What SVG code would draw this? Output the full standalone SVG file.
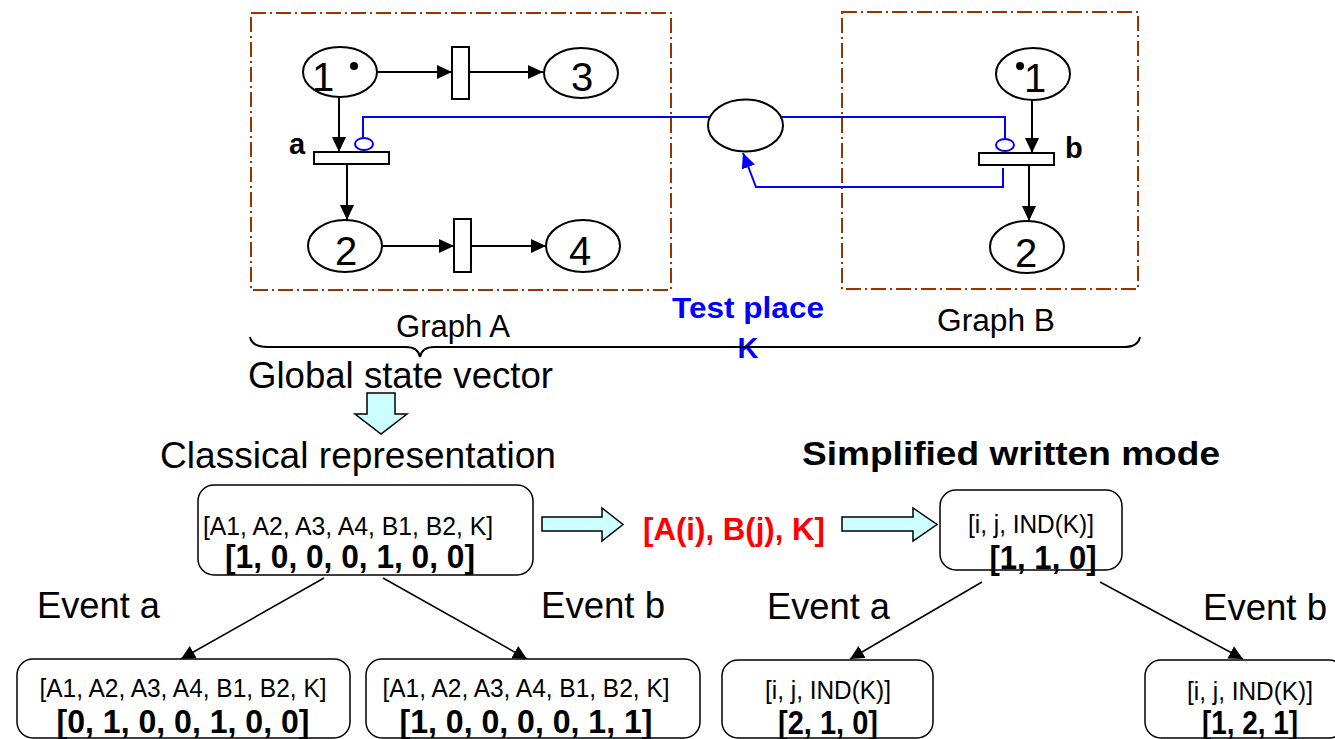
<svg xmlns="http://www.w3.org/2000/svg" width="1335" height="739" viewBox="0 0 1335 739">
<style>
text{font-family:"Liberation Sans",Arial,sans-serif;fill:#000}
.b{font-weight:bold}
.place{fill:#fff;stroke:#000;stroke-width:2}
.trans{fill:#fff;stroke:#000;stroke-width:2}
.frame{fill:none;stroke:#993300;stroke-width:2;stroke-dasharray:15 4 2 4}
.arc{fill:none;stroke:#000;stroke-width:2}
.tarc{fill:none;stroke:#000;stroke-width:1.5}
.blue{fill:none;stroke:#0000FF;stroke-width:2}
.box{fill:#fff;stroke:#000;stroke-width:1.5}
.blk{fill:#CCFFFF;stroke:#000;stroke-width:1.5}
.dig{font-size:40px;text-anchor:middle}
.lbl{font-size:29px;font-weight:bold}
.small{font-size:25px;text-anchor:middle}
.vec{font-size:34px;font-weight:bold;text-anchor:middle}
.ev{font-size:36px}
</style>
<defs>
<marker id="arr" viewBox="0 0 15 14" refX="15" refY="7" markerWidth="15" markerHeight="14" markerUnits="userSpaceOnUse" orient="auto"><path d="M0,0 L15,7 L0,14 z" fill="#000"/></marker>
<marker id="arrs" viewBox="0 0 14 14" refX="14" refY="7" markerWidth="14" markerHeight="14" markerUnits="userSpaceOnUse" orient="auto"><path d="M0,0 L14,7 L0,14 z" fill="#000"/></marker>
<marker id="arrb" viewBox="0 0 15 14" refX="15" refY="7" markerWidth="15" markerHeight="14" markerUnits="userSpaceOnUse" orient="auto"><path d="M0,0 L15,7 L0,14 z" fill="#0000FF"/></marker>
</defs>

<g id="frames">
<rect id="graphA-frame" class="frame" x="251" y="13" width="420" height="277"/>
<rect id="graphB-frame" class="frame" x="842" y="12" width="296" height="277"/>
</g>

<g id="connectors">
<line class="arc" x1="378" y1="72" x2="452" y2="72" marker-end="url(#arr)"/>
<line class="arc" x1="469" y1="72" x2="543" y2="72" marker-end="url(#arr)"/>
<line class="arc" x1="339" y1="98" x2="339" y2="152" marker-end="url(#arr)"/>
<line class="arc" x1="347" y1="164" x2="347" y2="220" marker-end="url(#arr)"/>
<line class="arc" x1="382" y1="246" x2="454" y2="246" marker-end="url(#arr)"/>
<line class="arc" x1="471" y1="246" x2="546" y2="246" marker-end="url(#arr)"/>
<line class="arc" x1="1032" y1="100" x2="1032" y2="153" marker-end="url(#arr)"/>
<line class="arc" x1="1029" y1="165" x2="1029" y2="221" marker-end="url(#arr)"/>
<path class="blue" d="M709,117 H363 V138"/>
<ellipse cx="364" cy="144" rx="9" ry="6" fill="#fff" stroke="#0000FF" stroke-width="2"/>
<line class="blue" x1="364" y1="150" x2="364" y2="152"/>
<path class="blue" d="M782,117 H1005 V139"/>
<ellipse cx="1005" cy="145" rx="9" ry="6" fill="#fff" stroke="#0000FF" stroke-width="2"/>
<path class="blue" d="M1003,168 V187 H756 L743,153" marker-end="url(#arrb)"/>
<line class="tarc" x1="324" y1="578" x2="181" y2="659" marker-end="url(#arrs)"/>
<line class="tarc" x1="383" y1="578" x2="527" y2="659" marker-end="url(#arrs)"/>
<line class="tarc" x1="982" y1="582" x2="850" y2="659" marker-end="url(#arrs)"/>
<line class="tarc" x1="1100" y1="582" x2="1243" y2="659" marker-end="url(#arrs)"/>
</g>

<g id="A1"><ellipse class="place" cx="340" cy="72" rx="37" ry="25"/><text class="dig" x="323" y="91">1</text><circle cx="354" cy="66" r="4" fill="#000"/></g>
<g id="A3"><ellipse class="place" cx="581" cy="73" rx="37" ry="25"/><text class="dig" x="582" y="91">3</text></g>
<g id="A2"><ellipse class="place" cx="345" cy="246" rx="37" ry="26"/><text class="dig" x="346" y="265">2</text></g>
<g id="A4"><ellipse class="place" cx="583" cy="246" rx="37" ry="26"/><text class="dig" x="580" y="265">4</text></g>
<g id="tA1"><rect class="trans" x="452" y="47" width="17" height="52"/></g>
<g id="tA2"><rect class="trans" x="454" y="219" width="17" height="53"/></g>
<g id="ta"><rect class="trans" x="314" y="152" width="75" height="12"/><text class="lbl" x="289" y="154">a</text></g>

<g id="K"><ellipse class="place" cx="745.5" cy="125.5" rx="37.5" ry="26"/></g>

<g id="B1"><ellipse class="place" cx="1033" cy="74" rx="37" ry="26"/><text class="dig" x="1035" y="92">1</text><circle cx="1020" cy="66" r="4" fill="#000"/></g>
<g id="B2"><ellipse class="place" cx="1027" cy="247" rx="37" ry="26"/><text class="dig" x="1026" y="267">2</text></g>
<g id="tb"><rect class="trans" x="979" y="153" width="75" height="12"/><text class="lbl" x="1065" y="158">b</text></g>

<g id="labels">
<text x="396" y="337" font-size="31" textLength="114" lengthAdjust="spacingAndGlyphs">Graph A</text>
<text x="937" y="331" font-size="31" textLength="118" lengthAdjust="spacingAndGlyphs">Graph B</text>
<text class="b" x="672" y="318" font-size="29" style="fill:#0000FF" textLength="152" lengthAdjust="spacingAndGlyphs">Test place</text>
<text class="b" x="748" y="358" font-size="29" text-anchor="middle" style="fill:#0000FF">K</text>
<path d="M250,337 Q252,347 268,347 H406 Q418,347 420,357 Q422,347 434,347 H1124 Q1138,347 1140,337" fill="none" stroke="#000" stroke-width="2"/>
<text x="248" y="388" font-size="36" textLength="305" lengthAdjust="spacingAndGlyphs">Global state vector</text>
<text x="160" y="468" font-size="36" textLength="396" lengthAdjust="spacingAndGlyphs">Classical representation</text>
<text class="b" x="802" y="465" font-size="34" textLength="418" lengthAdjust="spacingAndGlyphs">Simplified written mode</text>
<text class="b" x="643" y="540" font-size="31" style="fill:#FF0000" textLength="182" lengthAdjust="spacingAndGlyphs">[A(i), B(j), K]</text>
<text class="ev" x="37" y="618" textLength="123" lengthAdjust="spacingAndGlyphs">Event a</text>
<text class="ev" x="541" y="618" textLength="124" lengthAdjust="spacingAndGlyphs">Event b</text>
<text class="ev" x="767" y="619" textLength="123" lengthAdjust="spacingAndGlyphs">Event a</text>
<text class="ev" x="1203" y="620" textLength="124" lengthAdjust="spacingAndGlyphs">Event b</text>
</g>

<g id="block-arrows">
<path class="blk" d="M367,393 H395 V414 H407 L381,434 L355,414 H367 Z"/>
<path class="blk" d="M542,517 H602 V508 L623,524.5 L602,541 V531 H542 Z"/>
<path class="blk" d="M842,517 H913 V508 L937,524.5 L913,541 V531 H842 Z"/>
</g>

<g id="classical-root"><rect class="box" x="198" y="485" width="335" height="90" rx="16"/>
<text class="small" x="348" y="535" textLength="290" lengthAdjust="spacingAndGlyphs">[A1, A2, A3, A4, B1, B2, K]</text>
<text class="vec" x="350" y="568" textLength="250" lengthAdjust="spacingAndGlyphs">[1, 0, 0, 0, 1, 0, 0]</text></g>

<g id="classical-a"><rect class="box" x="17" y="659" width="333" height="79" rx="16"/>
<text class="small" x="183" y="697" textLength="287" lengthAdjust="spacingAndGlyphs">[A1, A2, A3, A4, B1, B2, K]</text>
<text class="vec" x="183" y="733" textLength="253" lengthAdjust="spacingAndGlyphs">[0, 1, 0, 0, 1, 0, 0]</text></g>

<g id="classical-b"><rect class="box" x="366" y="659" width="334" height="79" rx="16"/>
<text class="small" x="526" y="697" textLength="287" lengthAdjust="spacingAndGlyphs">[A1, A2, A3, A4, B1, B2, K]</text>
<text class="vec" x="526" y="733" textLength="253" lengthAdjust="spacingAndGlyphs">[1, 0, 0, 0, 0, 1, 1]</text></g>

<g id="simple-root"><rect class="box" x="940" y="490" width="182" height="80" rx="16"/>
<text class="small" x="1031" y="533" textLength="126" lengthAdjust="spacingAndGlyphs">[i, j, IND(K)]</text>
<text class="vec" x="1043" y="569" textLength="107" lengthAdjust="spacingAndGlyphs">[1, 1, 0]</text></g>

<g id="simple-a"><rect class="box" x="722" y="660" width="211" height="78" rx="16"/>
<text class="small" x="828" y="699" textLength="126" lengthAdjust="spacingAndGlyphs">[i, j, IND(K)]</text>
<text class="vec" x="828" y="734" textLength="100" lengthAdjust="spacingAndGlyphs">[2, 1, 0]</text></g>

<g id="simple-b"><rect class="box" x="1145" y="660" width="200" height="78" rx="16"/>
<text class="small" x="1250" y="700" textLength="126" lengthAdjust="spacingAndGlyphs">[i, j, IND(K)]</text>
<text class="vec" x="1250" y="734" textLength="96" lengthAdjust="spacingAndGlyphs">[1, 2, 1]</text></g>
</svg>
